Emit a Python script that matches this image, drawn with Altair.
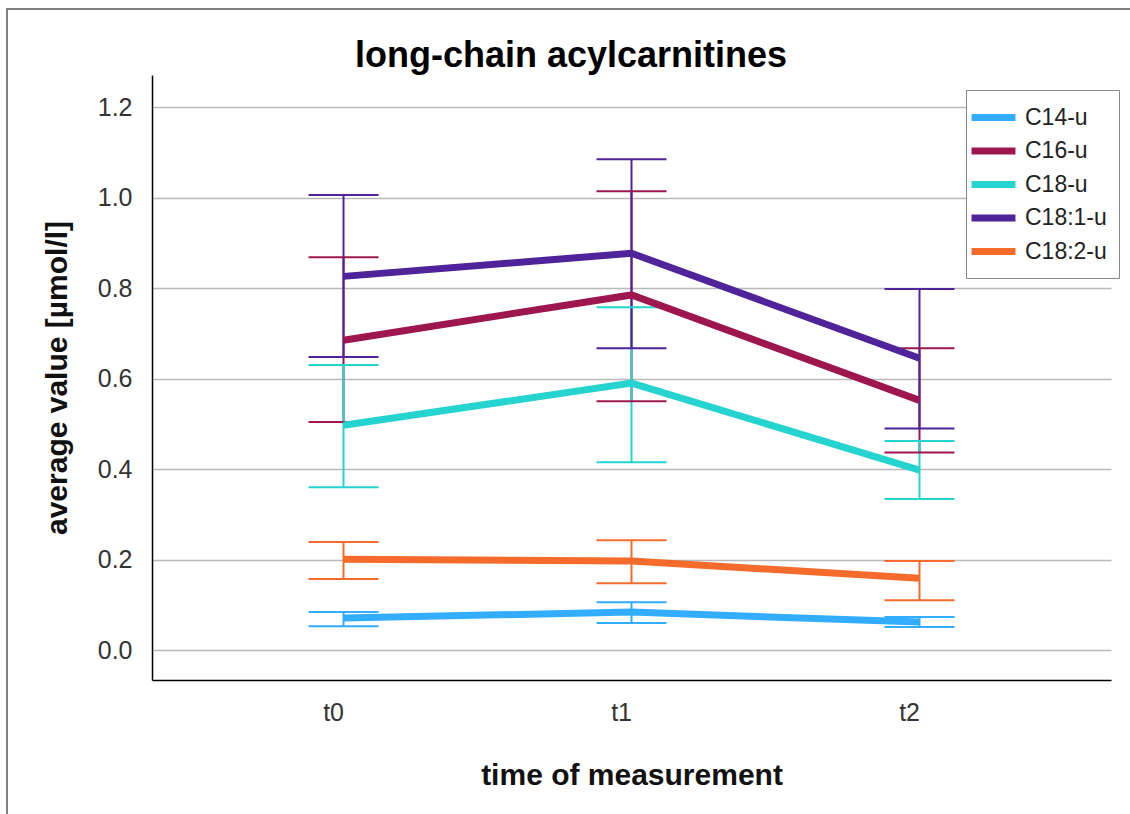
import altair as alt
import pandas as pd

# Measurement time points and acylcarnitine species
times = ["t0", "t1", "t2"]
series = ["C14-u", "C16-u", "C18-u", "C18:1-u", "C18:2-u"]
colors = ["#33adff", "#9e1650", "#25d4cf", "#4f2399", "#f46b2b"]
chart_title = "long-chain acylcarnitines"

# Mean values per species (t0, t1, t2) in µmol/l
mean_c14 = [0.071, 0.084, 0.062]
mean_c16 = [0.685, 0.785, 0.552]
mean_c18 = [0.497, 0.590, 0.398]
mean_c181 = [0.826, 0.877, 0.645]
mean_c182 = [0.201, 0.197, 0.159]

# Lower error bar ends
low_c14 = [0.053, 0.060, 0.051]
low_c16 = [0.504, 0.550, 0.437]
low_c18 = [0.360, 0.415, 0.334]
low_c181 = [0.648, 0.667, 0.490]
low_c182 = [0.157, 0.148, 0.110]

# Upper error bar ends
high_c14 = [0.084, 0.106, 0.073]
high_c16 = [0.868, 1.014, 0.667]
high_c18 = [0.630, 0.758, 0.462]
high_c181 = [1.006, 1.085, 0.798]
high_c182 = [0.239, 0.243, 0.197]

means = [mean_c14, mean_c16, mean_c18, mean_c181, mean_c182]
lows = [low_c14, low_c16, low_c18, low_c181, low_c182]
highs = [high_c14, high_c16, high_c18, high_c181, high_c182]

rows = []
for name, m, lo, hi in zip(series, means, lows, highs):
    for t, mv, lv, hv in zip(times, m, lo, hi):
        rows.append({"series": name, "time": t, "mean": mv, "lo": lv, "hi": hv})
df = pd.DataFrame(rows)

FONT = "Liberation Sans"

x_enc = alt.X(
    "time:N",
    sort=times,
    scale=alt.Scale(type="point", padding=0.665),
    axis=alt.Axis(
        title="time of measurement",
        titleFontSize=30,
        titleFontWeight="bold",
        titleColor="#111111",
        titlePadding=35,
        labelFontSize=25,
        labelColor="#333333",
        labelPadding=32,
        labelAngle=0,
        ticks=False,
        domainColor="#000000",
        domainWidth=1.5,
        grid=False,
    ),
)

y_scale = alt.Scale(domain=[-0.066, 1.271], nice=False, zero=False)
y_axis = alt.Axis(
    title="average value [µmol/l]",
    titleFontSize=30,
    titleFontWeight="bold",
    titleColor="#111111",
    titlePadding=25,
    values=[0.0, 0.2, 0.4, 0.6, 0.8, 1.0, 1.2],
    format=".1f",
    labelFontSize=25,
    labelColor="#333333",
    labelPadding=20,
    ticks=False,
    domainColor="#000000",
    domainWidth=1.5,
    grid=True,
    gridColor="#b9b9b9",
    gridWidth=1.5,
)

color_scale = alt.Scale(domain=series, range=colors)

base = alt.Chart(df)

lines = base.mark_line(strokeWidth=7, opacity=1).encode(
    x=x_enc,
    y=alt.Y("mean:Q", scale=y_scale, axis=y_axis),
    color=alt.Color(
        "series:N",
        scale=color_scale,
        legend=alt.Legend(
            title=None,
            orient="none",
            legendX=814,
            legendY=15,
            symbolType="M-1.83,0H1.83",
            symbolStrokeWidth=7,
            symbolSize=576,
            labelFontSize=23,
            labelColor="#222222",
            labelFont=FONT,
            strokeColor="#888888",
            fillColor="#ffffff",
            padding=12,
            rowPadding=3.5,
            labelOffset=16,
        ),
    ),
    detail="series:N",
)

whiskers = base.mark_rule(strokeWidth=2, opacity=1).encode(
    x=alt.X("time:N", sort=times),
    y=alt.Y("lo:Q", scale=y_scale),
    y2="hi:Q",
    color=alt.Color("series:N", scale=color_scale),
)

caps_lo = base.mark_tick(size=70, thickness=2, opacity=1, orient="horizontal").encode(
    x=alt.X("time:N", sort=times),
    y=alt.Y("lo:Q", scale=y_scale),
    color=alt.Color("series:N", scale=color_scale),
)
caps_hi = base.mark_tick(size=70, thickness=2, opacity=1, orient="horizontal").encode(
    x=alt.X("time:N", sort=times),
    y=alt.Y("hi:Q", scale=y_scale),
    color=alt.Color("series:N", scale=color_scale),
)

# Chart heading, centred over the whole frame
heading = alt.Chart(pd.DataFrame({"label": [chart_title]})).mark_text(
    font=FONT, fontSize=36, fontWeight="bold", color="#000000",
    align="center", baseline="alphabetic",
).encode(x=alt.value(419), y=alt.value(-8), text="label:N")

# Outer frame edges (top and left)
frame_top = alt.Chart(pd.DataFrame({"k": [0]})).mark_rule(
    color="#808080", strokeWidth=2
).encode(x=alt.value(-145), x2=alt.value(980), y=alt.value(-66))
frame_left = alt.Chart(pd.DataFrame({"k": [0]})).mark_rule(
    color="#808080", strokeWidth=2
).encode(x=alt.value(-145), y=alt.value(-67), y2=alt.value(745))

chart = (
    alt.layer(whiskers, caps_lo, caps_hi, lines, heading, frame_top, frame_left)
    .properties(
        width=959,
        height=605,
        padding={"left": 152, "top": 75, "right": 19, "bottom": 134},
        autosize=alt.AutoSizeParams(type="none"),
    )
    .configure(font=FONT, background="#ffffff")
    .configure_view(stroke=None)
)

chart.save("out.html", embed_options={"renderer": "svg", "actions": False})
